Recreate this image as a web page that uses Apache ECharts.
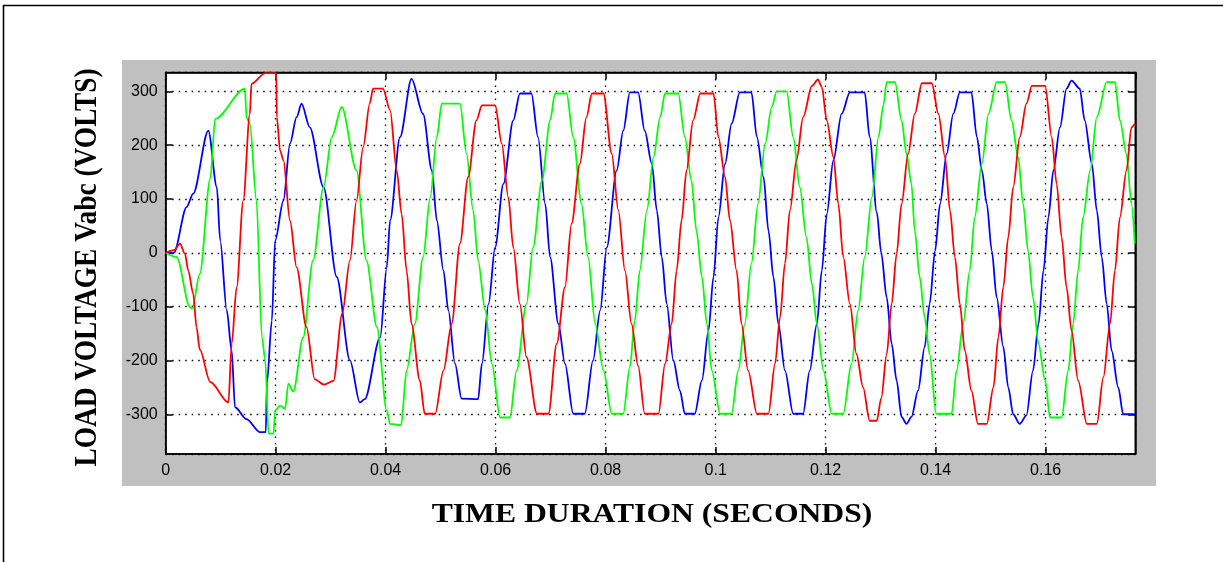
<!DOCTYPE html>
<html>
<head>
<meta charset="utf-8">
<script src="https://cdn.jsdelivr.net/npm/echarts@6/dist/echarts.min.js"></script>
<style>
html,body{margin:0;padding:0;background:#fff;}
#chart{width:1223px;height:562px;}
</style>
</head>
<body>
<div id="chart"></div>
<script>
// ---- data: [time (s), voltage (V)] ----
const phaseBlue = [
[0,0],[0.0015,0],[0.0038,85],[0.005,110],[0.00775,227],[0.0093,122],[0.0099,23],[0.0111,-107],[0.012,-182],[0.0126,-287],
[0.0147,-309],[0.0171,-333],[0.0182,-333],[0.0184,-243],[0.0193,-126],[0.0199,23],[0.0214,97],[0.0226,203],[0.0238,252],
[0.0247,277],[0.0262,233],[0.0287,122],[0.0311,-45],[0.0335,-200],[0.0353,-278],[0.0362,-272],[0.039,-157],[0.0402,-27],
[0.0408,60],[0.0426,215],[0.0447,323],[0.0468,258],[0.0484,153],[0.0493,60],[0.0505,-33],[0.0514,-107],[0.0526,-206],
[0.0538,-271],[0.0568,-272],[0.0575,-206],[0.0587,-95],[0.0599,10],[0.0614,128],[0.0632,246],[0.0644,296],[0.0665,296],
[0.0677,215],[0.069,91],[0.0699,-8],[0.0714,-132],[0.0726,-206],[0.0741,-299],[0.0762,-299],[0.0777,-200],[0.079,-107],
[0.0802,10],[0.082,153],[0.0832,227],[0.0844,298],[0.0859,298],[0.0871,227],[0.0884,165],[0.0893,79],[0.0902,-8],
[0.0911,-95],[0.0923,-200],[0.0935,-256],[0.0944,-299],[0.0962,-299],[0.0975,-237],[0.0987,-144],[0.0996,-45],[0.1005,66],
[0.1017,165],[0.1029,240],[0.1044,298],[0.1065,298],[0.1075,215],[0.1087,141],[0.1096,41],[0.1105,-45],[0.1114,-132],
[0.1126,-219],[0.1141,-299],[0.1159,-299],[0.1171,-219],[0.1184,-132],[0.1193,-33],[0.1202,72],[0.1214,172],[0.1229,258],
[0.1244,298],[0.1271,298],[0.128,215],[0.1293,75],[0.1301,0],[0.1311,-83],[0.132,-169],[0.1329,-237],[0.1338,-305],
[0.1347,-318],[0.1356,-305],[0.1368,-256],[0.138,-175],[0.1389,-95],[0.1399,4],[0.1408,91],[0.142,184],[0.1432,258],
[0.1444,298],[0.1465,298],[0.1475,215],[0.1484,153],[0.1493,91],[0.1502,4],[0.1511,-83],[0.1523,-175],[0.1532,-250],
[0.1541,-300],[0.1553,-318],[0.1565,-302],[0.1577,-219],[0.1587,-132],[0.1596,-33],[0.1605,66],[0.1614,153],[0.1626,233],
[0.1638,305],[0.1647,320],[0.1662,305],[0.1671,246],[0.1684,165],[0.1693,79],[0.1702,-8],[0.1711,-95],[0.172,-182],
[0.1732,-250],[0.1741,-300],[0.1762,-300]
];
const phaseGreen = [
[0,0],[0.002,-8],[0.0044,-101],[0.0048,-104],[0.0062,-39],[0.0081,138],[0.009,249],[0.0144,305],[0.0147,251],[0.0153,240],
[0.0165,97],[0.0175,-157],[0.0181,-200],[0.0187,-336],[0.0196,-336],[0.0199,-293],[0.0208,-284],[0.0217,-290],[0.0223,-243],
[0.0232,-258],[0.025,-157],[0.0268,-14],[0.0287,122],[0.0302,215],[0.032,271],[0.0347,153],[0.0365,-14],[0.0384,-138],
[0.0402,-293],[0.0408,-318],[0.0428,-320],[0.0438,-219],[0.0453,-132],[0.0468,-8],[0.0481,103],[0.0493,215],[0.0502,277],
[0.0535,277],[0.0547,184],[0.0559,79],[0.0568,-14],[0.0581,-107],[0.0593,-206],[0.0608,-306],[0.0626,-306],[0.0638,-219],
[0.0656,-95],[0.0668,10],[0.0684,134],[0.0699,246],[0.0708,296],[0.0729,296],[0.0741,215],[0.0756,91],[0.0768,-8],
[0.0781,-132],[0.0796,-219],[0.0811,-299],[0.0832,-299],[0.0844,-212],[0.0853,-126],[0.0862,-33],[0.0875,79],[0.0887,178],
[0.0899,252],[0.0908,296],[0.0932,296],[0.0944,215],[0.0956,134],[0.0965,41],[0.0975,-45],[0.0984,-132],[0.0993,-219],
[0.1008,-299],[0.1029,-299],[0.1041,-219],[0.1053,-132],[0.1065,-20],[0.1077,91],[0.109,203],[0.1102,271],[0.1111,300],
[0.1129,300],[0.1141,215],[0.1153,122],[0.1165,29],[0.1175,-58],[0.1184,-132],[0.1196,-219],[0.1211,-299],[0.1232,-299],
[0.1247,-206],[0.1259,-107],[0.1271,-8],[0.1284,103],[0.1296,215],[0.1305,275],[0.1311,317],[0.1326,317],[0.1338,246],
[0.1347,184],[0.1356,128],[0.1362,41],[0.1371,-45],[0.138,-120],[0.1389,-188],[0.1401,-299],[0.1429,-299],[0.1438,-219],
[0.145,-132],[0.1462,-33],[0.1471,66],[0.1484,165],[0.1496,258],[0.1511,317],[0.1526,317],[0.1538,246],[0.155,178],
[0.1559,91],[0.1568,4],[0.1577,-83],[0.1587,-169],[0.1599,-237],[0.1608,-306],[0.1629,-306],[0.1641,-219],[0.165,-132],
[0.1659,-33],[0.1668,66],[0.1681,153],[0.1693,252],[0.1711,317],[0.1726,317],[0.1735,246],[0.1747,184],[0.1756,91],
[0.1762,17]
];
const phaseRed = [
[0,0],[0.0015,5],[0.0026,17],[0.0035,-2],[0.0041,-33],[0.005,-76],[0.0056,-138],[0.0062,-180],[0.0081,-240],[0.0114,-278],
[0.012,-169],[0.0129,-64],[0.0141,97],[0.0153,258],[0.0156,314],[0.0181,334],[0.0201,334],[0.0202,252],[0.0208,190],
[0.0214,172],[0.0226,60],[0.0238,-27],[0.0256,-138],[0.0271,-235],[0.0288,-245],[0.0305,-238],[0.0321,-113],[0.0335,-14],
[0.0347,97],[0.0359,196],[0.0371,277],[0.0377,305],[0.0395,305],[0.0408,265],[0.042,153],[0.0429,72],[0.0438,-33],
[0.0447,-132],[0.0462,-237],[0.0471,-299],[0.049,-299],[0.0505,-219],[0.052,-132],[0.0535,17],[0.055,141],[0.0565,246],
[0.0575,274],[0.0599,274],[0.0611,203],[0.0623,103],[0.0632,10],[0.0644,-95],[0.0656,-194],[0.0675,-299],[0.0696,-299],
[0.0711,-169],[0.0726,-64],[0.0738,54],[0.0753,165],[0.0765,252],[0.0775,296],[0.0796,296],[0.0811,184],[0.0823,79],
[0.0835,-33],[0.0847,-132],[0.0859,-210],[0.0871,-299],[0.0896,-299],[0.0908,-206],[0.092,-132],[0.0929,-33],[0.0938,60],
[0.0947,153],[0.0959,246],[0.0972,296],[0.0996,296],[0.1005,215],[0.1017,141],[0.1026,60],[0.1038,-33],[0.1047,-132],
[0.1059,-219],[0.1075,-299],[0.1096,-299],[0.1108,-206],[0.1117,-120],[0.1126,-20],[0.1135,79],[0.1147,172],[0.1159,252],
[0.1175,310],[0.1186,322],[0.1193,308],[0.1202,246],[0.1214,178],[0.1223,91],[0.1232,-8],[0.1244,-95],[0.1256,-188],
[0.1268,-250],[0.128,-312],[0.1293,-312],[0.1301,-270],[0.1311,-188],[0.132,-95],[0.1329,-2],[0.1338,91],[0.135,184],
[0.1362,258],[0.1375,315],[0.1393,315],[0.1405,258],[0.1417,178],[0.1426,79],[0.1435,-8],[0.1444,-95],[0.1453,-182],
[0.1465,-256],[0.1477,-318],[0.1493,-318],[0.1505,-250],[0.1514,-157],[0.1523,-64],[0.1532,29],[0.1541,122],[0.1553,215],
[0.1565,277],[0.1575,310],[0.1599,310],[0.1611,215],[0.162,128],[0.1629,29],[0.1638,-64],[0.1647,-144],[0.1659,-237],
[0.1675,-318],[0.1693,-318],[0.1705,-231],[0.1717,-132],[0.1726,-33],[0.1735,66],[0.1747,153],[0.1756,233],[0.1762,240]
];
const xRange = [0, 0.1763];
const yRange = [-374, 335];
const xTitle = 'TIME DURATION (SECONDS)';
const yTitle = 'LOAD VOLTAGE Vabc (VOLTS)';
const seriesColors = ['#0000ff', '#00ff00', '#ff0000'];

const chart = echarts.init(document.getElementById('chart'), null, {renderer: 'canvas'});

const labelFont = {color: '#000', fontFamily: '"Liberation Sans", Arial, sans-serif', fontSize: 16};
const axisLineStyle = {color: '#000', width: 1.5};
const gridDots = {color: '#000', width: 1.3, type: [1.5, 5]};

function lineSeries(name, data, color) {
  return {
    name, type: 'line', data, showSymbol: false, symbol: 'none',
    smooth: 0.3, smoothMonotone: 'x',
    lineStyle: {color, width: 1.8}, itemStyle: {color},
    clip: true, animation: false, silent: true
  };
}

chart.setOption({
  animation: false,
  backgroundColor: '#fff',
  grid: {
    left: 165.7, top: 72.5, width: 969.6, height: 381.6,
    show: true, backgroundColor: '#fff', borderColor: '#000', borderWidth: 1.5,
    containLabel: false, outerBoundsMode: 'none'
  },
  xAxis: [
    {
      type: 'value', min: xRange[0], max: xRange[1], interval: 0.02, position: 'bottom',
      axisLine: {show: true, onZero: false, lineStyle: axisLineStyle},
      axisTick: {show: true, inside: true, length: 7, lineStyle: {color: '#000', width: 1.5}},
      axisLabel: Object.assign({margin: 8, showMaxLabel: false, showMinLabel: true}, labelFont),
      splitLine: {show: true, lineStyle: gridDots}
    },
    {
      type: 'value', min: xRange[0], max: xRange[1], interval: 0.02, position: 'top',
      axisLine: {show: true, onZero: false, lineStyle: axisLineStyle},
      axisTick: {show: true, inside: true, length: 7, lineStyle: {color: '#000', width: 1.5}},
      axisLabel: {show: false}, splitLine: {show: false}
    }
  ],
  yAxis: [
    {
      type: 'value', min: yRange[0], max: yRange[1], splitNumber: 5, position: 'left',
      axisLine: {show: true, onZero: false, lineStyle: axisLineStyle},
      axisTick: {show: true, inside: true, length: 7, lineStyle: {color: '#000', width: 1.5}},
      axisLabel: Object.assign({margin: 8, showMinLabel: false, showMaxLabel: false}, labelFont),
      splitLine: {show: true, lineStyle: gridDots}
    },
    {
      type: 'value', min: yRange[0], max: yRange[1], splitNumber: 5, position: 'right',
      axisLine: {show: true, onZero: false, lineStyle: axisLineStyle},
      axisTick: {show: true, inside: true, length: 7, lineStyle: {color: '#000', width: 1.5}},
      axisLabel: {show: false}, splitLine: {show: false}
    }
  ],
  graphic: [
    {type: 'rect', z: -100, silent: true, shape: {x: 122, y: 60, width: 1034, height: 426}, style: {fill: '#c0c0c0'}},
    {type: 'line', z: 100, silent: true, shape: {x1: 3, y1: 5.5, x2: 1223, y2: 5.5}, style: {stroke: '#000', lineWidth: 1.6}},
    {type: 'line', z: 100, silent: true, shape: {x1: 3.5, y1: 5, x2: 3.5, y2: 562}, style: {stroke: '#000', lineWidth: 1.6}},
    {
      type: 'text', z: 100, silent: true, x: 652, y: 514.5, scaleX: 1.13, scaleY: 1,
      style: {text: xTitle, x: 0, y: 0, font: 'bold 28px "Liberation Serif", "Times New Roman", serif', fill: '#000',
              textAlign: 'center', textVerticalAlign: 'middle', align: 'center', verticalAlign: 'middle'}
    },
    {
      type: 'text', z: 100, silent: true, x: 88, y: 267.5, rotation: Math.PI / 2, scaleX: 1.015, scaleY: 1.13,
      style: {text: yTitle, x: 0, y: 0, font: 'bold 27px "Liberation Serif", "Times New Roman", serif', fill: '#000',
              textAlign: 'center', textVerticalAlign: 'middle', align: 'center', verticalAlign: 'middle'}
    }
  ],
  series: [
    lineSeries('Va', phaseBlue, seriesColors[0]),
    lineSeries('Vb', phaseGreen, seriesColors[1]),
    lineSeries('Vc', phaseRed, seriesColors[2])
  ]
});
</script>
</body>
</html>
